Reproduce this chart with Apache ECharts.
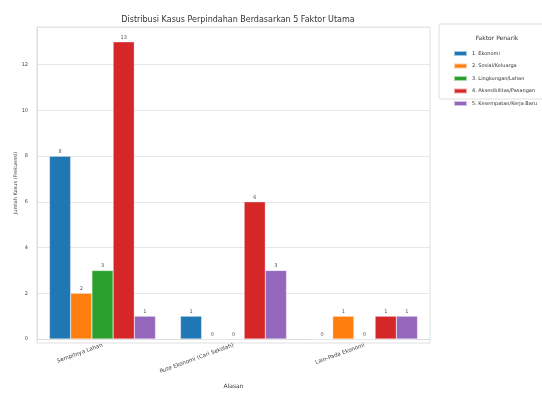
<!DOCTYPE html>
<html>
<head>
<meta charset="utf-8">
<script src="https://cdn.jsdelivr.net/npm/echarts@6/dist/echarts.min.js"></script>
<style>
  html, body { margin: 0; padding: 0; background: #fff; }
  #chart { width: 542px; height: 394px; }
</style>
</head>
<body>
<div id="chart"></div>
<script>
// Reasons (x categories)
const categories = ['Sempitnya Lahan', 'Rute Ekonomi (Cari Sekolah)', 'Lain-Pada Ekonomi'];
// Factor names (legend)
const factors = ['1. Ekonomi', '2. Sosial/Keluarga', '3. Lingkungan/Lahan', '4. Aksesibilitas/Pasangan', '5. Kesempatan/Kerja Baru'];
// Case counts per factor, one value per category
const ekonomi = [8, 1, 0];
const sosial = [2, 0, 1];
const lingkungan = [3, 0, 0];
const aksesibilitas = [13, 6, 1];
const kesempatan = [1, 3, 1];
const yTicks = [0, 2, 4, 6, 8, 10, 12];

const palette = ['#1f77b4', '#ff7f0e', '#2ca02c', '#d62728', '#9467bd'];
const seriesData = [ekonomi, sosial, lingkungan, aksesibilitas, kesempatan];
const font = 'DejaVu Sans';

const chart = echarts.init(document.getElementById('chart'), null, { renderer: 'canvas' });

const series = factors.map((name, i) => ({
  name: name,
  type: 'bar',
  data: seriesData[i],
  barGap: '0%',
  barCategoryGap: '19%',
  itemStyle: { color: palette[i], borderColor: 'rgba(255,255,255,0.6)', borderWidth: 0.5 },
  label: {
    show: true,
    position: 'top',
    distance: 2,
    fontSize: 5,
    color: '#555',
    fontFamily: font
  }
}));

chart.setOption({
  backgroundColor: '#fff',
  animation: false,
  color: palette,
  title: [
    {
      text: 'Distribusi Kasus Perpindahan Berdasarkan 5 Faktor Utama',
      left: 233, top: 11, textAlign: 'center',
      textStyle: { fontSize: 8, fontWeight: 'normal', color: '#333', fontFamily: font }
    },
    {
      text: 'Faktor Penarik',
      left: 492, top: 30, textAlign: 'center',
      textStyle: { fontSize: 6, fontWeight: 'normal', color: '#333', fontFamily: font }
    }
  ],
  graphic: [
    {
      type: 'rect',
      shape: { x: 439, y: 24, width: 110, height: 75, r: 2 },
      style: { fill: '#fff', stroke: '#dddddd', lineWidth: 1 },
      z: -1
    },
    {
      // light frame around the plotting area
      type: 'rect',
      shape: { x: 37, y: 27, width: 542 - 112 - 37, height: 394 - 51 - 27 },
      style: { fill: 'none', stroke: '#e0e0e0', lineWidth: 1 },
      silent: true,
      z: 0
    }
  ],
  legend: {
    data: factors,
    orient: 'vertical',
    left: 448, top: 45,
    itemWidth: 13, itemHeight: 5,
    itemGap: 5.5,
    icon: 'rect',
    textStyle: { fontSize: 5, color: '#333', fontFamily: font }
  },
  grid: { left: 37, right: 112, top: 27, bottom: 51, containLabel: false },
  xAxis: {
    type: 'category',
    data: categories,
    name: 'Alasan',
    nameLocation: 'middle',
    nameGap: 44,
    nameMoveOverlap: false,
    nameTextStyle: { fontSize: 6, color: '#333', fontFamily: font },
    axisLine: { show: true, lineStyle: { color: '#ddd', width: 1 } },
    axisTick: { show: false },
    axisLabel: { rotate: 20, fontSize: 5.5, color: '#444', margin: 6, fontFamily: font },
    splitLine: { show: false }
  },
  yAxis: {
    type: 'value',
    min: 0,
    max: 13.65,
    interval: 2,
    name: 'Jumlah Kasus (Frekuensi)',
    nameLocation: 'middle',
    nameGap: 19,
    nameMoveOverlap: false,
    nameTextStyle: { fontSize: 5, color: '#444', fontFamily: font },
    axisLine: { show: true, lineStyle: { color: '#ddd' } },
    axisTick: { show: false },
    axisLabel: {
      fontSize: 5, color: '#444', margin: 9, fontFamily: font,
      showMaxLabel: false,
      formatter: v => (yTicks.indexOf(v) >= 0 ? String(v) : '')
    },
    splitLine: { show: true, lineStyle: { color: '#e6e6e6', width: 1 } }
  },
  series: series
});
</script>
</body>
</html>
